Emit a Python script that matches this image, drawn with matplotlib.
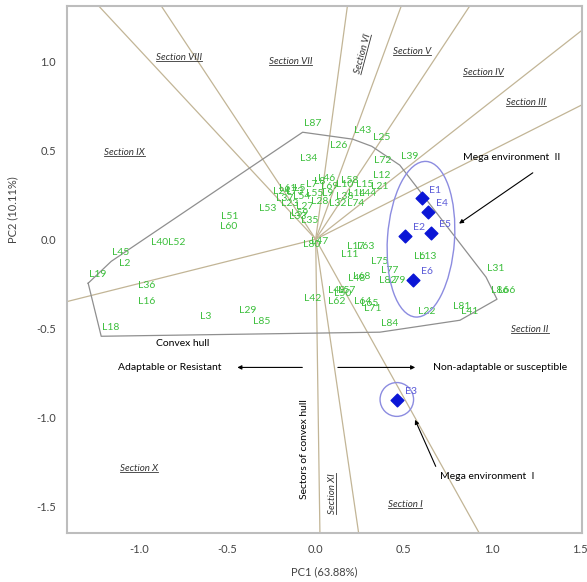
import numpy as np
import matplotlib
matplotlib.use("Agg")
import matplotlib.pyplot as plt
from matplotlib.patches import Ellipse, Circle

plt.rcParams['font.family'] = ['Lato', 'DejaVu Sans']

# genotype scores (PC1, PC2)
gen_names = ['L87', 'L43', 'L25', 'L26', 'L34', 'L72', 'L39', 'L12', 'L21', 'L46',
             'L58', 'L24', 'L73', 'L5', 'L7', 'L8', 'L9', 'L10', 'L14', 'L15',
             'L53', 'L23', 'L27', 'L28', 'L32', 'L33', 'L35', 'L37', 'L38', 'L44',
             'L54', 'L55', 'L59', 'L61', 'L69', 'L74', 'L51', 'L60', 'L40', 'L52',
             'L45', 'L2', 'L19', 'L36', 'L16', 'L18', 'L3', 'L29', 'L85', 'L47',
             'L80', 'L17', 'L11', 'L63', 'L75', 'L68', 'L48', 'L77', 'L79', 'L82',
             'L6', 'L13', 'L31', 'L66', 'L86', 'L41', 'L81', 'L22', 'L84', 'L42',
             'L49', 'L50', 'L57', 'L62', 'L64', 'L65', 'L71']
gen_pc1 = [-0.074, 0.210, 0.318, 0.074, -0.097, 0.324, 0.477, 0.318, 0.307, 0.006,
           0.136, -0.250, -0.176, -0.148, -0.080, -0.034, 0.011, 0.108, 0.176, 0.221,
           -0.330, -0.205, -0.120, -0.034, 0.068, -0.159, -0.091, -0.233, 0.108, 0.238,
           -0.137, -0.063, -0.148, -0.216, 0.023, 0.170, -0.540, -0.551, -0.943, -0.841,
           -1.159, -1.137, -1.290, -1.012, -1.012, -1.216, -0.676, -0.443, -0.364, -0.034,
           -0.080, 0.170, 0.136, 0.227, 0.307, 0.204, 0.176, 0.363, 0.403, 0.352,
           0.534, 0.579, 0.966, 1.028, 0.988, 0.818, 0.773, 0.574, 0.364, -0.074,
           0.062, 0.096, 0.119, 0.062, 0.210, 0.250, 0.267]
gen_pc2 = [0.601, 0.562, 0.522, 0.477, 0.404, 0.393, 0.416, 0.309, 0.247, 0.292,
           0.281, 0.219, 0.219, 0.236, 0.258, 0.275, 0.208, 0.258, 0.208, 0.258,
           0.124, 0.152, 0.135, 0.163, 0.152, 0.079, 0.056, 0.180, 0.191, 0.208,
           0.191, 0.208, 0.095, 0.236, 0.247, 0.152, 0.079, 0.022, -0.067, -0.067,
           -0.124, -0.185, -0.247, -0.309, -0.399, -0.545, -0.483, -0.449, -0.511, -0.062,
           -0.079, -0.090, -0.135, -0.090, -0.174, -0.258, -0.270, -0.225, -0.281, -0.281,
           -0.141, -0.146, -0.213, -0.337, -0.337, -0.455, -0.427, -0.455, -0.522, -0.382,
           -0.337, -0.354, -0.337, -0.399, -0.399, -0.410, -0.438]

# environment scores
env_names = ['E1', 'E4', 'E2', 'E5', 'E6', 'E3']
env_pc1 = [0.600, 0.636, 0.506, 0.653, 0.551, 0.460]
env_pc2 = [0.229, 0.152, 0.017, 0.034, -0.230, -0.904]

section_names = ['Section VIII', 'Section VII', 'Section VI', 'Section V', 'Section IV',
                 'Section III', 'Section IX', 'Section II', 'Section X', 'Section XI',
                 'Section I']
section_x = [-0.773, -0.142, 0.267, 0.545, 0.949, 1.19, -1.085, 1.216, -1.0, 0.097, 0.506]
section_y = [1.022, 1.0, 1.04, 1.056, 0.938, 0.77, 0.489, -0.506, -1.29, -1.43, -1.49]
section_rot = [0, 0, 75, 0, 0, 0, 0, 0, 0, 90, 0]

XLIM = (-1.41, 1.51)
YLIM = (-1.65, 1.31)


def convex_hull(pts):
    pts = sorted(set(pts))
    def cross(o, a, b):
        return (a[0] - o[0]) * (b[1] - o[1]) - (a[1] - o[1]) * (b[0] - o[0])
    lower, upper = [], []
    for p in pts:
        while len(lower) >= 2 and cross(lower[-2], lower[-1], p) <= 0:
            lower.pop()
        lower.append(p)
    for p in reversed(pts):
        while len(upper) >= 2 and cross(upper[-2], upper[-1], p) <= 0:
            upper.pop()
        upper.append(p)
    return lower[:-1] + upper[:-1]


fig = plt.figure(figsize=(5.87, 5.82), dpi=100)
ax = fig.add_axes([67 / 587, 49 / 582, 515 / 587, 527 / 582])
ax.set_xlim(*XLIM)
ax.set_ylim(*YLIM)

# hull and perpendicular rays
hull = convex_hull(list(zip(gen_pc1, gen_pc2)))
hx = [p[0] for p in hull] + [hull[0][0]]
hy = [p[1] for p in hull] + [hull[0][1]]
ax.plot(hx, hy, color='#8f8f8f', lw=0.9, zorder=2)

for i in range(len(hull)):
    a = np.array(hull[i])
    b = np.array(hull[(i + 1) % len(hull)])
    d = b - a
    t = -np.dot(a, d) / np.dot(d, d)
    foot = a + t * d
    u = foot / np.linalg.norm(foot)
    ts = []
    for k, lim in ((0, XLIM), (1, YLIM)):
        if u[k] > 0:
            ts.append(lim[1] / u[k])
        elif u[k] < 0:
            ts.append(lim[0] / u[k])
    r = min(ts)
    ax.plot([0, u[0] * r], [0, u[1] * r], color='#c2b596', lw=0.9, zorder=1)

# genotype labels
for n, x, y in zip(gen_names, gen_pc1, gen_pc2):
    ax.annotate(n, (x, y), xytext=(7, 6), textcoords='offset points',
                ha='center', va='center', fontsize=7.5, color='#3cbf3c', zorder=3)

# environments
ax.scatter(env_pc1, env_pc2, marker='D', s=42, color='#0b16d6', zorder=4)
for n, x, y in zip(env_names, env_pc1, env_pc2):
    ax.annotate(n, (x, y), xytext=(10, 6), textcoords='offset points',
                ha='center', va='center', fontsize=7.5, color='#5a5ad8', zorder=5)

ax.add_patch(Ellipse((0.597, 0.0), 0.38, 0.876, angle=-4, fill=False,
                     ec='#8c8ce0', lw=1.0, zorder=3))
ax.add_patch(Circle((0.46, -0.90), 0.095, fill=False, ec='#8c8ce0', lw=1.0, zorder=3))

# annotations
ax.annotate('', xy=(-0.46, -0.72), xytext=(-0.06, -0.72),
            arrowprops=dict(arrowstyle='-|>', color='black', lw=0.8, mutation_scale=6))
ax.annotate('', xy=(0.58, -0.72), xytext=(0.11, -0.72),
            arrowprops=dict(arrowstyle='-|>', color='black', lw=0.8, mutation_scale=6))
ax.text(-0.83, -0.72, 'Adaptable or Resistant', ha='center', va='center', fontsize=7.5)
ax.text(1.045, -0.72, 'Non-adaptable or susceptible', ha='center', va='center', fontsize=7.5)
ax.text(-0.756, -0.584, 'Convex hull', ha='center', va='center', fontsize=7.5)
ax.text(-0.0625, -1.18, 'Sectors of convex hull', ha='center', va='center',
        fontsize=7.5, rotation=90)
ax.text(0.835, 0.46, 'Mega environment  II', ha='left', va='center', fontsize=7.5)
ax.annotate('', xy=(0.80, 0.079), xytext=(1.244, 0.382),
            arrowprops=dict(arrowstyle='-|>', color='black', lw=0.8, mutation_scale=6))
ax.text(0.705, -1.33, 'Mega environment  I', ha='left', va='center', fontsize=7.5)
ax.annotate('', xy=(0.557, -1.0), xytext=(0.687, -1.29),
            arrowprops=dict(arrowstyle='-|>', color='black', lw=0.8, mutation_scale=6))

sec_texts = []
for n, x, y, rot in zip(section_names, section_x, section_y, section_rot):
    t = ax.text(x, y, n, ha='center', va='center', fontsize=7, style='italic',
                rotation=rot, color='#333333')
    sec_texts.append((t, rot))

ax.set_xticks([-1.0, -0.5, 0.0, 0.5, 1.0, 1.5])
ax.set_yticks([-1.5, -1.0, -0.5, 0.0, 0.5, 1.0])
ax.set_xticklabels(['-1.0', '-0.5', '0.0', '0.5', '1.0', '1.5'])
ax.set_yticklabels(['-1.5', '-1.0', '-0.5', '0.0', '0.5', '1.0'])
ax.tick_params(length=0, labelsize=8, labelcolor='#444444', pad=8)
ax.set_xlabel('PC1 (63.88%)', fontsize=8, color='#444444', labelpad=8)
ax.set_ylabel('PC2 (10.11%)', fontsize=8, color='#444444')
ax.yaxis.set_label_coords(-0.095, 0.613)
for s in ax.spines.values():
    s.set_color('#bdbdbd')
    s.set_linewidth(1.5)

# underline the section labels
fig.canvas.draw()
renderer = fig.canvas.get_renderer()
inv = fig.transFigure.inverted()
for t, rot in sec_texts:
    t.set_rotation(0)
    bb = t.get_window_extent(renderer)
    t.set_rotation(rot)
    w, h = bb.width, bb.height
    cx, cy = ax.transData.transform(t.get_position())
    th = np.deg2rad(rot)
    along = np.array([np.cos(th), np.sin(th)])
    perp = np.array([np.sin(th), -np.cos(th)])
    c = np.array([cx, cy]) + perp * (h / 2 - 1)
    p0 = inv.transform(c - along * w / 2)
    p1 = inv.transform(c + along * w / 2)
    fig.add_artist(plt.Line2D([p0[0], p1[0]], [p0[1], p1[1]], color='#333333', lw=0.6))

fig.savefig('out.png', dpi=100)
